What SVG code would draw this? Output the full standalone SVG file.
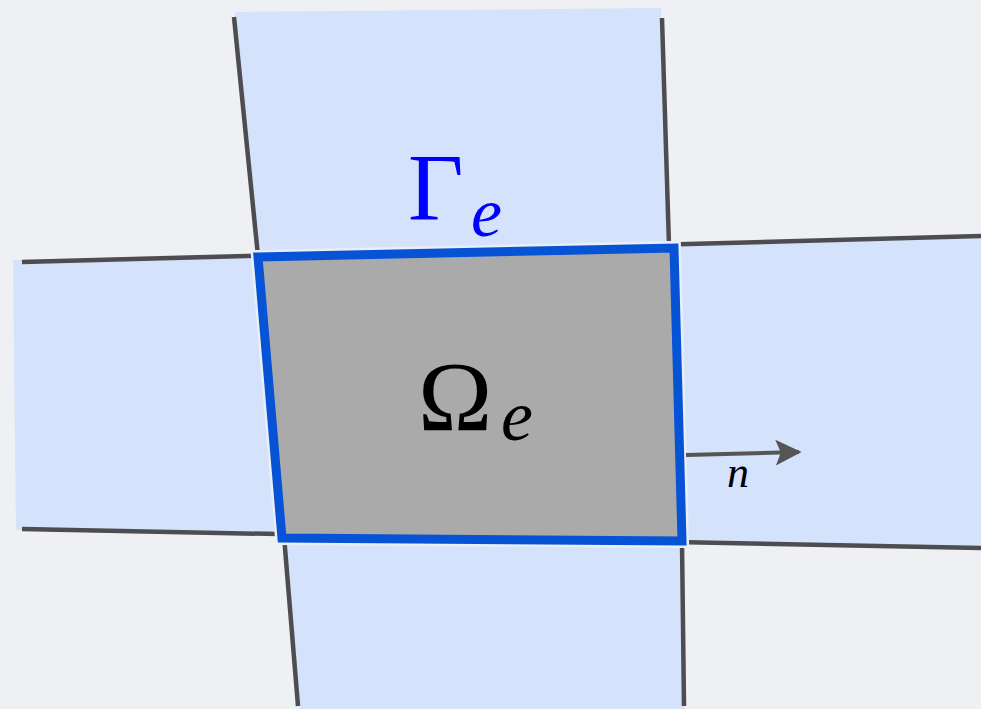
<svg xmlns="http://www.w3.org/2000/svg" width="981" height="709" viewBox="0 0 981 709">
<defs>
<style>
.reg{fill:#d4e2fb;stroke:none}
.ln{stroke:#4d4d4f;stroke-width:4.5;fill:none;stroke-linecap:butt}
.lbl{font-family:"Liberation Serif","DejaVu Serif",serif}
</style>
<marker id="ah" viewBox="0 0 10 10" refX="9" refY="5" markerWidth="26" markerHeight="26" markerUnits="userSpaceOnUse" orient="auto">
<path d="M0,0 L10,5 L0,10 L2,5 Z" fill="#555"/>
</marker>
</defs>
<rect width="981" height="709" fill="#eef0f3"/>
<g id="top-region"><polygon class="reg" points="235,12 661,8 669,246 258,255"/></g>
<g id="left-region"><polygon class="reg" points="13,260 258,256 283,534 16,530"/></g>
<g id="right-region"><polygon class="reg" points="673,244 981,236 981,548 684,542"/></g>
<g id="bottom-region"><polygon class="reg" points="283,536 683,541 684,709 300,709"/></g>
<g id="connectors">
<line class="ln" x1="22" y1="262" x2="981" y2="236"/>
<line class="ln" x1="22" y1="529" x2="981" y2="548"/>
<line class="ln" x1="234" y1="17" x2="258" y2="256"/>
<line class="ln" x1="662" y1="18" x2="669" y2="246"/>
<line class="ln" x1="284" y1="536" x2="298" y2="706"/>
<line class="ln" x1="682" y1="542" x2="684" y2="706"/>
</g>
<g id="element">
<polygon points="258,257 674,248 682,541 282,538" fill="#aaaaaa" stroke="#e9eef8" stroke-width="14" stroke-linejoin="miter"/>
<polygon points="258,257 674,248 682,541 282,538" fill="#aaaaaa" stroke="#0653d6" stroke-width="9" stroke-linejoin="miter"/>
<text class="lbl" x="418" y="430" font-size="100" fill="#000">Ω</text>
<text class="lbl" x="501" y="440" font-size="72" font-style="italic" fill="#000">e</text>
</g>
<g id="gamma-label">
<text class="lbl" x="408" y="220" font-size="96" fill="#0000ff">Γ</text>
<text class="lbl" x="471" y="236" font-size="70" font-style="italic" fill="#0000ff">e</text>
</g>
<g id="normal">
<line x1="686" y1="455" x2="799" y2="452" stroke="#555" stroke-width="4" marker-end="url(#ah)"/>
<text class="lbl" x="727" y="487" font-size="44" font-style="italic" fill="#000">n</text>
</g>
</svg>
